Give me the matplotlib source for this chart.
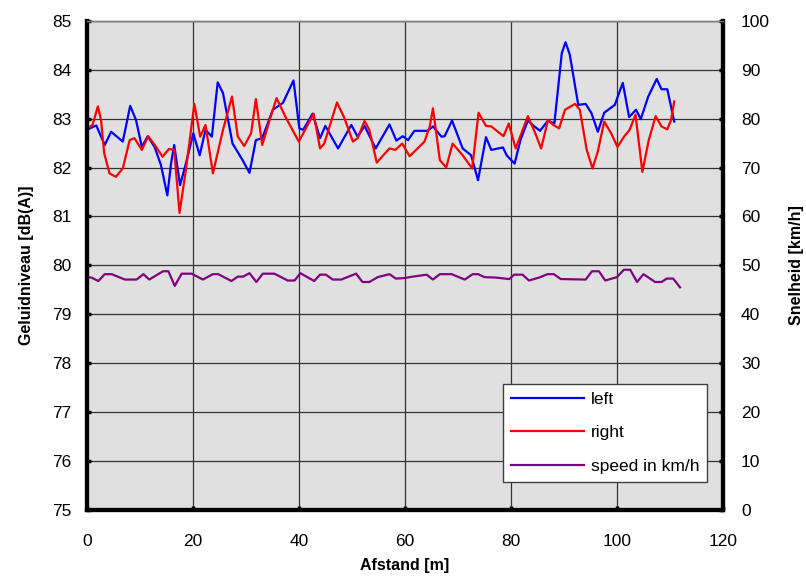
import matplotlib
matplotlib.use("Agg")
import matplotlib.pyplot as plt

plt.rcParams['font.family'] = ['Liberation Sans', 'DejaVu Sans']

left_x = [0, 1.8, 3.4, 4.6, 6.8, 8.2, 9.3, 10.4, 11.5, 12.8, 14.0, 15.2, 15.9, 16.5, 17.6,
          18.7, 20.1, 21.3, 22.4, 23.6, 24.7, 25.7, 27.5, 29.4, 30.7, 31.9, 33.1, 35.1, 37.0,
          39.0, 40.1, 40.8, 42.6, 44.0, 45.0, 47.4, 49.9, 51.1, 52.4, 54.5, 57.1, 58.4, 59.6,
          60.6, 61.8, 64.3, 65.3, 66.9, 67.5, 68.9, 70.9, 72.5, 73.8, 75.3, 76.3, 78.5, 79.2,
          80.7, 81.8, 83.2, 84.3, 85.5, 87.0, 88.2, 89.6, 90.3, 91.1, 92.7, 94.1, 95.2, 96.4,
          97.6, 99.6, 101.1, 102.3, 103.6, 104.5, 105.9, 107.5, 108.4, 109.5, 110.8]
left_y = [82.77, 82.86, 82.46, 82.73, 82.53, 83.26, 82.97, 82.42, 82.64, 82.42, 82.05, 81.43,
          82.08, 82.46, 81.64, 82.08, 82.70, 82.25, 82.77, 82.63, 83.74, 83.52, 82.49, 82.15,
          81.89, 82.56, 82.60, 83.18, 83.32, 83.78, 82.80, 82.77, 83.10, 82.60, 82.85, 82.39,
          82.87, 82.63, 82.85, 82.39, 82.88, 82.55, 82.64, 82.56, 82.75, 82.75, 82.84, 82.63,
          82.64, 82.96, 82.39, 82.25, 81.74, 82.62, 82.36, 82.41, 82.25, 82.08, 82.56, 82.96,
          82.85, 82.75, 82.96, 82.90, 84.34, 84.56, 84.31, 83.28, 83.30, 83.11, 82.73, 83.12,
          83.28, 83.73, 83.03, 83.18, 82.99, 83.45, 83.81, 83.60, 83.60, 82.94]

right_x = [0, 1.1, 2.1, 2.7, 3.3, 4.3, 5.5, 6.8, 8.1, 9.0, 10.4, 11.6, 13.1, 14.3, 15.5, 16.5,
           17.5, 18.7, 20.3, 21.4, 22.4, 23.8, 25.7, 27.4, 28.5, 29.7, 31.0, 31.9, 33.1, 34.5,
           35.8, 37.6, 40.0, 42.8, 44.0, 44.8, 47.2, 48.6, 50.2, 51.1, 52.4, 53.3, 54.7, 57.1,
           58.2, 59.5, 60.9, 63.7, 64.7, 65.3, 66.6, 67.8, 69.0, 70.9, 72.7, 73.9, 75.3, 76.3,
           78.6, 79.6, 80.9, 83.2, 84.6, 85.7, 87.0, 88.0, 89.1, 90.2, 92.1, 93.0, 94.3, 95.4,
           96.4, 97.6, 98.9, 100.1, 101.4, 102.4, 103.5, 104.8, 106.0, 107.3, 108.4, 109.5,
           110.2, 110.8]
right_y = [82.80, 82.87, 83.25, 82.97, 82.29, 81.88, 81.81, 81.98, 82.56, 82.60, 82.36, 82.64,
           82.42, 82.22, 82.38, 82.36, 81.07, 81.95, 83.30, 82.63, 82.87, 81.88, 82.77, 83.45,
           82.63, 82.44, 82.70, 83.40, 82.46, 82.97, 83.42, 83.01, 82.53, 83.10, 82.39, 82.49,
           83.33, 83.01, 82.53, 82.60, 82.95, 82.77, 82.10, 82.39, 82.36, 82.49, 82.23, 82.53,
           82.84, 83.21, 82.15, 82.00, 82.49, 82.25, 81.98, 83.12, 82.85, 82.84, 82.64, 82.90,
           82.39, 83.05, 82.70, 82.39, 82.97, 82.87, 82.80, 83.18, 83.30, 83.18, 82.36, 81.98,
           82.33, 82.94, 82.70, 82.42, 82.64, 82.77, 83.08, 81.91, 82.56, 83.05, 82.84, 82.78,
           82.97, 83.35]

speed_x = [0, 0.9, 2.2, 3.4, 4.7, 7.2, 9.4, 10.7, 11.8, 14.4, 15.4, 16.6, 17.9, 19.8, 21.9,
           23.8, 24.8, 27.3, 28.5, 29.5, 30.7, 32.0, 33.2, 35.4, 37.9, 39.2, 40.3, 42.9, 44.0,
           45.1, 46.4, 48.0, 50.8, 52.0, 53.3, 54.9, 57.1, 58.3, 59.9, 60.9, 64.1, 65.3, 66.6,
           68.8, 71.3, 72.8, 73.8, 75.0, 77.2, 79.7, 80.6, 82.2, 83.4, 85.3, 86.9, 88.1, 89.4,
           94.1, 95.3, 96.6, 97.8, 100.0, 101.3, 102.5, 103.8, 105.0, 107.2, 108.4, 109.4,
           110.6, 111.9]
speed_y = [47.6, 47.5, 46.8, 48.2, 48.2, 47.1, 47.1, 48.2, 47.1, 48.8, 48.8, 45.8, 48.3, 48.3,
           47.1, 48.2, 48.2, 46.8, 47.7, 47.7, 48.4, 46.6, 48.3, 48.3, 46.9, 46.9, 48.4, 46.8,
           48.1, 48.1, 47.1, 47.1, 48.3, 46.6, 46.6, 47.6, 48.2, 47.3, 47.4, 47.6, 48.1, 47.1,
           48.2, 48.2, 47.1, 48.2, 48.2, 47.6, 47.5, 47.2, 48.1, 48.1, 46.9, 47.5, 48.2, 48.2,
           47.2, 47.1, 48.8, 48.8, 46.9, 47.6, 49.1, 49.1, 46.6, 48.2, 46.6, 46.6, 47.3, 47.3,
           45.5]

x_ticks = [0, 20, 40, 60, 80, 100, 120]
left_ticks = [75, 76, 77, 78, 79, 80, 81, 82, 83, 84, 85]
right_ticks = [0, 10, 20, 30, 40, 50, 60, 70, 80, 90, 100]

fig = plt.figure(figsize=(8.06, 5.76), dpi=100)
ax = fig.add_axes([0.1076, 0.1146, 0.897 - 0.1076, 0.964 - 0.1146])
ax.set_facecolor('#E0E0E0')
ax.set_xlim(0, 120)
ax.set_ylim(75, 85)
ax.set_xticks(x_ticks)
ax.set_yticks(left_ticks)
ax.grid(True, color='#333333', lw=0.9, zorder=0)
ax.set_axisbelow(True)

l1, = ax.plot(left_x, left_y, color='#0000FF', lw=1.6, zorder=3)
l2, = ax.plot(right_x, right_y, color='#FF0000', lw=1.6, zorder=3)

ax2 = ax.twinx()
ax2.set_ylim(0, 100)
ax2.set_yticks(right_ticks)
l3, = ax2.plot(speed_x, speed_y, color='#800080', lw=1.6)

for a in (ax, ax2):
    for s in ('left', 'right', 'bottom'):
        a.spines[s].set_linewidth(3.0)
        a.spines[s].set_color('black')
    a.spines['top'].set_linewidth(1.0)
    a.spines['top'].set_color('#808080')
    a.tick_params(direction='in', length=3, width=2.5, labelsize=12.5, colors='black')
ax.tick_params(axis='y', pad=11)
ax.tick_params(axis='x', pad=17)
ax2.tick_params(axis='y', pad=13)

ax.set_xlabel('Afstand [m]', fontsize=11.5, fontweight='bold', labelpad=7)
ax.set_ylabel('Geluidniveau [dB(A)]', fontsize=11.5, fontweight='bold', labelpad=13)
ax2.set_ylabel('Snelheid [km/h]', fontsize=11.5, fontweight='bold', labelpad=14)

leg = ax2.legend([l1, l2, l3], ['left', 'right', 'speed in km/h'], loc='lower right',
                 bbox_to_anchor=(0.975, 0.058), fontsize=12.5, fancybox=False, framealpha=1,
                 edgecolor='#404040', handlelength=4.2, borderpad=0.45, labelspacing=1.05,
                 handletextpad=0.4, borderaxespad=0)
leg.get_frame().set_linewidth(1.0)

fig.savefig('out.png', dpi=100)
